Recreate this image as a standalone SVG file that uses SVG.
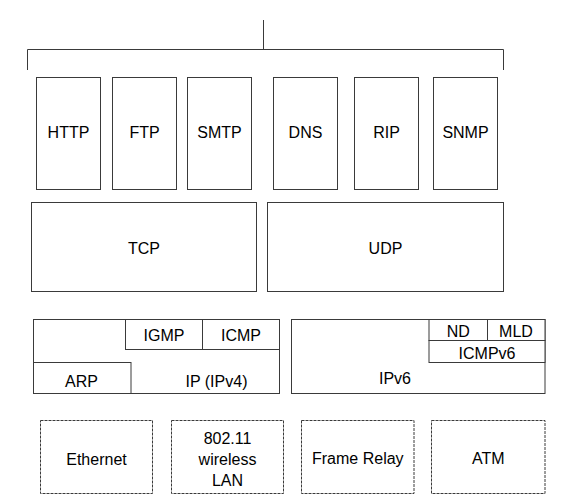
<svg xmlns="http://www.w3.org/2000/svg" width="565" height="503" viewBox="0 0 565 503">
<style>
.b{fill:#fff;stroke:#3a3a3a;stroke-width:1}
.d{fill:#fff;stroke:#3a3a3a;stroke-width:1;stroke-dasharray:3,1}
.l{fill:none;stroke:#3a3a3a;stroke-width:1}
text{font-family:"Liberation Sans",Arial,sans-serif;font-size:16px;fill:#000;text-anchor:middle}
</style>
<rect width="565" height="503" fill="#fff"/>
<g id="connectors">
<path class="l" d="M263.5,20V49.5M27.5,70V49.5H503.5V70"/>
</g>
<g id="http"><rect class="b" x="36.5" y="77.5" width="64" height="112"/><text x="68.5" y="138">HTTP</text></g>
<g id="ftp"><rect class="b" x="112.5" y="77.5" width="64" height="112"/><text x="144.5" y="138">FTP</text></g>
<g id="smtp"><rect class="b" x="187.5" y="77.5" width="64" height="112"/><text x="219.5" y="138">SMTP</text></g>
<g id="dns"><rect class="b" x="273.5" y="77.5" width="64" height="112"/><text x="305.5" y="138">DNS</text></g>
<g id="rip"><rect class="b" x="354.5" y="77.5" width="64" height="112"/><text x="386.5" y="138">RIP</text></g>
<g id="snmp"><rect class="b" x="433.5" y="77.5" width="64" height="112"/><text x="465.5" y="138">SNMP</text></g>
<g id="tcp"><rect class="b" x="31.5" y="202.5" width="225" height="89"/><text x="144" y="254">TCP</text></g>
<g id="udp"><rect class="b" x="267.5" y="202.5" width="236" height="89"/><text x="385.5" y="254">UDP</text></g>
<g id="ipv4"><rect class="b" x="33.5" y="319.5" width="246" height="74"/><text x="216.5" y="387">IP (IPv4)</text></g>
<g id="igmp"><rect class="b" x="125.5" y="319.5" width="77" height="30"/><text x="164" y="341">IGMP</text></g>
<g id="icmp"><rect class="b" x="202.5" y="319.5" width="77" height="30"/><text x="241" y="341">ICMP</text></g>
<g id="arp"><rect class="b" x="33.5" y="362.5" width="97.5" height="31"/><text x="81.5" y="387">ARP</text></g>
<g id="ipv6"><rect class="b" x="291.5" y="319.5" width="253.5" height="74"/><text x="395" y="384">IPv6</text></g>
<g id="nd"><rect class="b" x="429" y="319.5" width="58.5" height="21"/><text x="458.3" y="337">ND</text></g>
<g id="mld"><rect class="b" x="487.5" y="319.5" width="57.5" height="21"/><text x="516" y="337">MLD</text></g>
<g id="icmpv6"><rect class="b" x="429" y="340.5" width="116" height="22"/><text x="487" y="359">ICMPv6</text></g>
<g id="ethernet"><rect class="d" x="40.5" y="420.5" width="112" height="73"/><text x="96.5" y="465">Ethernet</text></g>
<g id="wlan"><rect class="d" x="171.5" y="420.5" width="112" height="73"/><text x="227.5" y="444">802.11</text><text x="227.5" y="465">wireless</text><text x="227.5" y="486">LAN</text></g>
<g id="framerelay"><rect class="d" x="301.5" y="420.5" width="112.5" height="73"/><text x="357.8" y="464">Frame Relay</text></g>
<g id="atm"><rect class="d" x="431.5" y="420.5" width="113.5" height="73"/><text x="488.3" y="464">ATM</text></g>
</svg>
